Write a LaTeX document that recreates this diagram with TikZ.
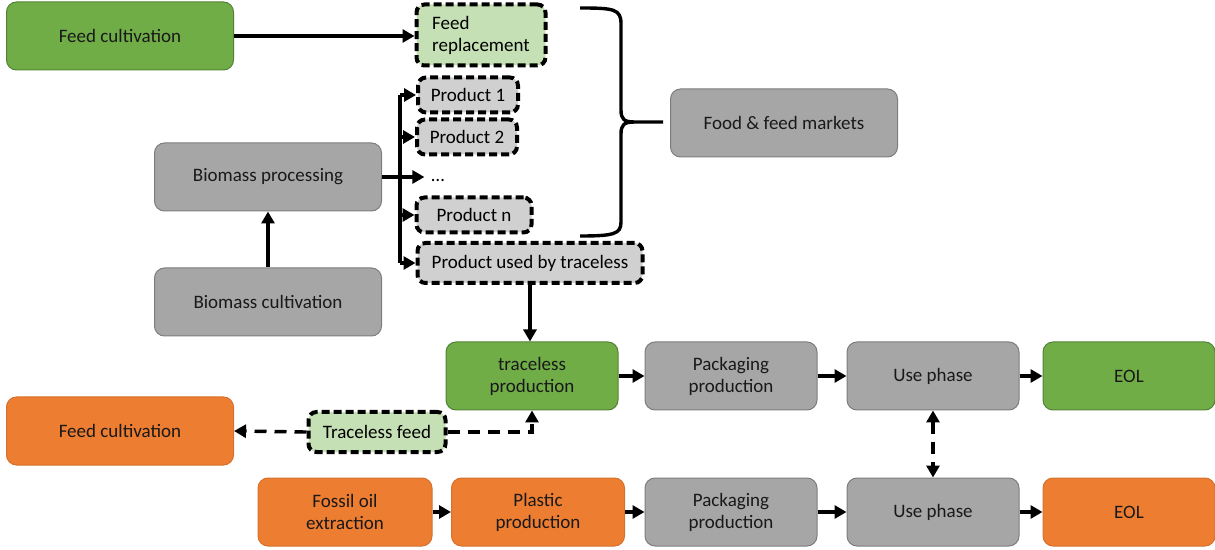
\documentclass[tikz,border=0pt]{standalone}
\usepackage{fontspec}
\setmainfont{Carlito}
\usetikzlibrary{arrows.meta,positioning}
\definecolor{tgreen}{HTML}{70AD47}
\definecolor{tlgreen}{HTML}{C5E0B4}
\definecolor{tgrey}{HTML}{A6A6A6}
\definecolor{tlgrey}{HTML}{D0D0D0}
\definecolor{torange}{HTML}{ED7D31}

\begin{document}
\begin{tikzpicture}[x=0.5pt,y=-0.5pt,
   font=\fontsize{9.5}{11}\selectfont,
   proc/.style={rounded corners=5pt,align=center,minimum width=113.5pt,minimum height=34pt,text=black!90,line width=0.5pt},
   greenbox/.style={proc,fill=tgreen,draw=tgreen!75!black},
   greybox/.style={proc,fill=tgrey,draw=tgrey!75!black},
   orangebox/.style={proc,fill=torange,draw=torange!90!black},
   dashbox/.style={rounded corners=4pt,draw=black,line width=2pt,dash pattern=on 4pt off 2pt,minimum height=17.5pt,inner sep=2pt},
   arr/.style={line width=1.7pt,-{Triangle[length=6pt,width=6.5pt]}},
   darr/.style={arr,dash pattern=on 6pt off 4pt}]
   \useasboundingbox (0,0) rectangle (1215,550);
   % upper part
   \node[greenbox] (feedA) at (120,36) {Feed cultivation};
   \node[dashbox,fill=tlgreen,minimum width=64.5pt,minimum height=30.5pt,align=left] (repl) at (481,35) {Feed\\replacement};
   \node[dashbox,fill=tlgrey,minimum width=50pt] (p1) at (468,95) {Product 1};
   \node[dashbox,fill=tlgrey,minimum width=50pt] (p2) at (467,137) {Product 2};
   \node (dots) at (438,181) {\dots};
   \node[dashbox,fill=tlgrey,minimum width=57.5pt] (pn) at (474,215) {Product n\hspace{6pt}};
   \node[dashbox,fill=tlgrey,minimum width=112.5pt,minimum height=20pt] (used) at (530,263) {Product used by traceless};
   \node[greybox] (market) at (784,123) {Food \& feed markets};
   \node[greybox] (bproc) at (268,177) {Biomass processing};
   \node[greybox] (bcult) at (268,302) {Biomass cultivation};
   % brace
   \draw[line width=1.7pt] (580,8) .. controls (614,8) and (621,9) .. (621,24) -- (621,110)
      .. controls (621,119) and (624,122) .. (634,122) -- (663,122);
   \draw[line width=1.7pt] (634,122) .. controls (624,122) and (621,125) .. (621,134) -- (621,222)
      .. controls (621,234) and (614,236) .. (580,236);
   \coordinate (bus) at (400,177);
   \draw[arr] (feedA.east) -- (feedA.east -| repl.west);
   \draw[arr] (bcult) -- (bproc);
   \draw[arr] (bproc.east) -- (bproc.east -| dots.west);
   \draw[line width=1.7pt] (bus |- p1) -- (bus |- used);
   \foreach \p in {p1,p2,pn,used}
      \draw[arr] (bus |- \p) -- (\p.west);
   % traceless chain
   \node[greenbox,minimum width=86pt] (tprod) at (532,376) {traceless\\production};
   \node[greybox,minimum width=86pt] (pack1) at (731,376) {Packaging\\production};
   \node[greybox,minimum width=86pt] (use1) at (933,376) {Use phase};
   \node[greenbox,minimum width=86pt] (eol1) at (1129,376) {EOL};
   \node[orangebox] (feedB) at (120,431) {Feed cultivation};
   \node[dashbox,fill=tlgreen,minimum width=68.5pt,minimum height=20pt] (tfeed) at (377,432) {Traceless feed};
   \draw[arr] (used.south) -- (used.south |- tprod.north);
   \draw[arr] (tprod) -- (pack1);
   \draw[arr] (pack1) -- (use1);
   \draw[arr] (use1) -- (eol1);
   \draw[darr] (tfeed.east) -| (tprod.south);
   \draw[darr] (tfeed.west) -- (feedB.east);
   % fossil chain
   \node[orangebox,minimum width=87pt] (fossil) at (345,512) {Fossil oil\\extraction};
   \node[orangebox,minimum width=86.5pt] (plastic) at (538,512) {Plastic\\production};
   \node[greybox,minimum width=86pt] (pack2) at (731,512) {Packaging\\production};
   \node[greybox,minimum width=86pt] (use2) at (933,512) {Use phase};
   \node[orangebox,minimum width=86pt] (eol2) at (1129,512) {EOL};
   \draw[arr] (fossil) -- (plastic);
   \draw[arr] (plastic) -- (pack2);
   \draw[arr] (pack2) -- (use2);
   \draw[arr] (use2) -- (eol2);
   \draw[darr,{Triangle[length=6pt,width=6.5pt]}-{Triangle[length=6pt,width=6.5pt]}] (use1) -- (use2);
\end{tikzpicture}
\end{document}
